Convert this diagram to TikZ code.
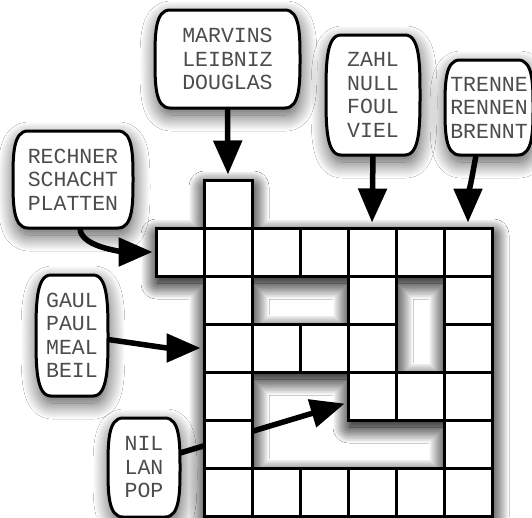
\documentclass[tikz,border=0pt]{standalone}
\usepackage{fontspec}
\newfontfamily\boxfont{Liberation Mono}
\usetikzlibrary{arrows.meta,calc,shadows.blur}
\pgfdeclarelayer{bg}
\pgfdeclarelayer{mid}
\pgfsetlayers{bg,mid,main}
\tikzset{
  word/.style={font=\boxfont\fontsize{21.5}{23.5}\selectfont, text=black!70, align=center, inner sep=0pt, outer sep=0pt},
  cell/.style={draw, fill=white, line width=3pt, minimum size=48pt, inner sep=0pt},
  softshadow/.style={blur shadow={shadow xshift=1pt, shadow yshift=-7pt, shadow blur radius=16pt, shadow opacity=70, shadow blur steps=20}},
  gridshade/.style={fill=white, softshadow},
  barrelbox/.style={draw, fill=white, line width=3pt, softshadow},
  feed/.style={draw=black, line width=5.5pt, -{Triangle[length=34pt,width=28pt,fill=black]}, shorten >=4pt},
}
\newcommand\barrelshape[1]{%
  \path[barrelbox] ([xshift=15pt]#1.north west) -- ([xshift=-15pt]#1.north east)
   .. controls (#1.north east) and ($(#1.north east)!0.5!(#1.east)$) .. (#1.east)
   .. controls ($(#1.east)!0.5!(#1.south east)$) and (#1.south east) .. ([xshift=-15pt]#1.south east)
   -- ([xshift=15pt]#1.south west)
   .. controls (#1.south west) and ($(#1.south west)!0.5!(#1.west)$) .. (#1.west)
   .. controls ($(#1.west)!0.5!(#1.north west)$) and (#1.north west) .. cycle;}
\def\celllist{1/0,0/1,1/1,2/1,3/1,4/1,5/1,6/1,1/2,4/2,6/2,1/3,2/3,3/3,4/3,6/3,1/4,4/4,5/4,6/4,1/5,6/5,1/6,2/6,3/6,4/6,5/6,6/6}
\begin{document}
\begin{tikzpicture}[x=1pt,y=1pt]
\useasboundingbox (0,0) rectangle (532,-517);
\begin{pgfonlayer}{bg}
  \fill[white] (0,0) rectangle (532,-517);
\end{pgfonlayer}

% word boxes
\node[word, minimum width=145pt, minimum height=98pt] (marvins) at (227.5,-59) {MARVINS\\LEIBNIZ\\DOUGLAS};
\node[word, minimum width=94pt, minimum height=120pt] (zahl) at (373,-95) {ZAHL\\NULL\\FOUL\\VIEL};
\node[word, minimum width=88pt, minimum height=95pt] (trenne) at (489,-107.5) {TRENNE\\RENNEN\\BRENNT};
\node[word, minimum width=120pt, minimum height=97pt] (rechner) at (73,-179.5) {RECHNER\\SCHACHT\\PLATTEN};
\node[word, minimum width=72pt, minimum height=121pt] (gaul) at (72,-335.5) {GAUL\\PAUL\\MEAL\\BEIL};
\node[word, minimum width=72pt, minimum height=99pt] (nil) at (144,-467.5) {NIL\\LAN\\POP};

% grid cells
\foreach \c/\r in \celllist {
  \node[cell] (c\c\r) at ({180+48*\c},{-(204+48*\r)}) {};
}

\begin{pgfonlayer}{bg}
  \foreach \n in {marvins,zahl,trenne,rechner,gaul,nil} {\barrelshape{\n}}
  % shadow of the whole grid: outline (clockwise) with its three holes (counter-clockwise)
  \foreach \k in {1,2} {
  \path[gridshade]
    (204,-180) -- (252,-180) -- (252,-228) -- (492,-228) -- (492,-516) -- (204,-516)
      -- (204,-276) -- (156,-276) -- (156,-228) -- (204,-228) -- cycle
    (252,-276) -- (252,-324) -- (348,-324) -- (348,-276) -- cycle
    (396,-276) -- (396,-372) -- (444,-372) -- (444,-276) -- cycle
    (252,-372) -- (252,-468) -- (444,-468) -- (444,-420) -- (348,-420) -- (348,-372) -- cycle;
  }
\end{pgfonlayer}

\begin{pgfonlayer}{mid}
  \draw[feed] (marvins.south) -- (c10.north);
  \draw[feed] (zahl.south) -- (c41.north);
  \draw[feed] ([xshift=-13pt]trenne.south) to[out=-100,in=90] (c61.north);
  \draw[feed, shorten >=2pt] ([xshift=7pt]rechner.south) to[out=-90,in=180,looseness=0.7] (c01.west);
  \draw[feed, shorten >=2pt] ([yshift=-4pt]gaul.east) to[out=-8,in=180] (c13.west);
  \draw[feed, shorten >=2pt] ([yshift=14.5pt]nil.east) -- ([yshift=-7pt]c44.west);
\end{pgfonlayer}
\end{tikzpicture}
\end{document}
